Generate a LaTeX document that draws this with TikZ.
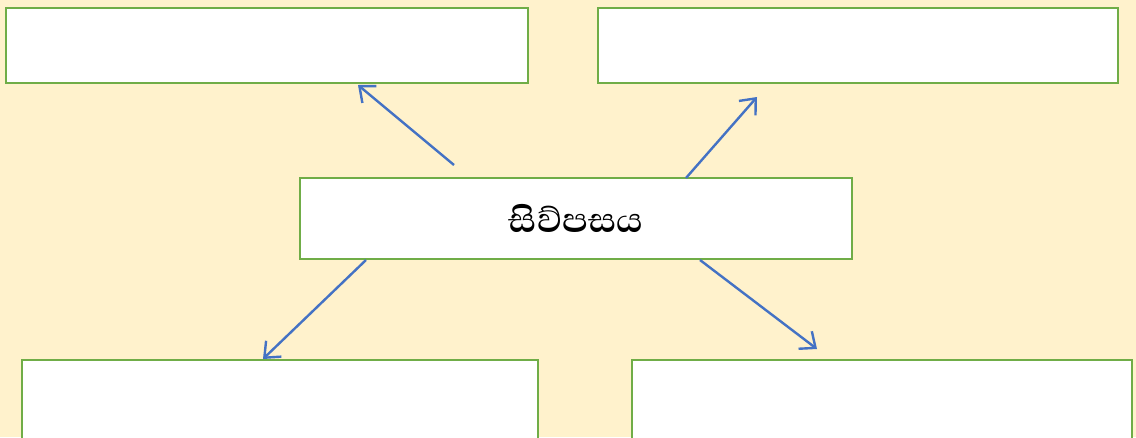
\documentclass[tikz,border=0pt]{standalone}
\usepackage{fontspec}
\newfontfamily\sinhalafont[Script=Sinhala]{Abhaya Libre}
\usetikzlibrary{arrows.meta}
\definecolor{bgyellow}{HTML}{FFF2CC}
\definecolor{boxgreen}{HTML}{70AD47}
\definecolor{arrowblue}{HTML}{4472C4}
\begin{document}
\begin{tikzpicture}[x=1pt,y=-1pt,
  box/.style={draw=boxgreen,line width=2.6pt,fill=white},
  conn/.style={draw=arrowblue,line width=2.4pt,-{Straight Barb[length=13pt,width=22pt,line width=2.4pt]}}]
\useasboundingbox (0,0) rectangle (1136,437);
\clip (0,0) rectangle (1136,437);
\fill[bgyellow] (0,0) rectangle (1136,437);
\draw[box] (6,8) rectangle (528,83);
\draw[box] (598,8) rectangle (1118,83);
\draw[box] (22,360) rectangle (538,445);
\draw[box] (632,360) rectangle (1132,445);
\node[box,minimum width=552pt,minimum height=81pt,inner sep=0pt] (c) at (576,218.5)
  {\fontsize{44}{48}\selectfont\sinhalafont\bfseries සිව්පසය};
\coordinate (s1) at (454,165);
\coordinate (e1) at (358,85);
\coordinate (s2) at (686,178);
\coordinate (e2) at (757,97);
\coordinate (s3) at (366,260);
\coordinate (e3) at (263,359);
\coordinate (s4) at (700,260);
\coordinate (e4) at (817,349);
\draw[conn] (s1) -- (e1);
\draw[conn] (s2) -- (e2);
\draw[conn] (s3) -- (e3);
\draw[conn] (s4) -- (e4);
\end{tikzpicture}
\end{document}
